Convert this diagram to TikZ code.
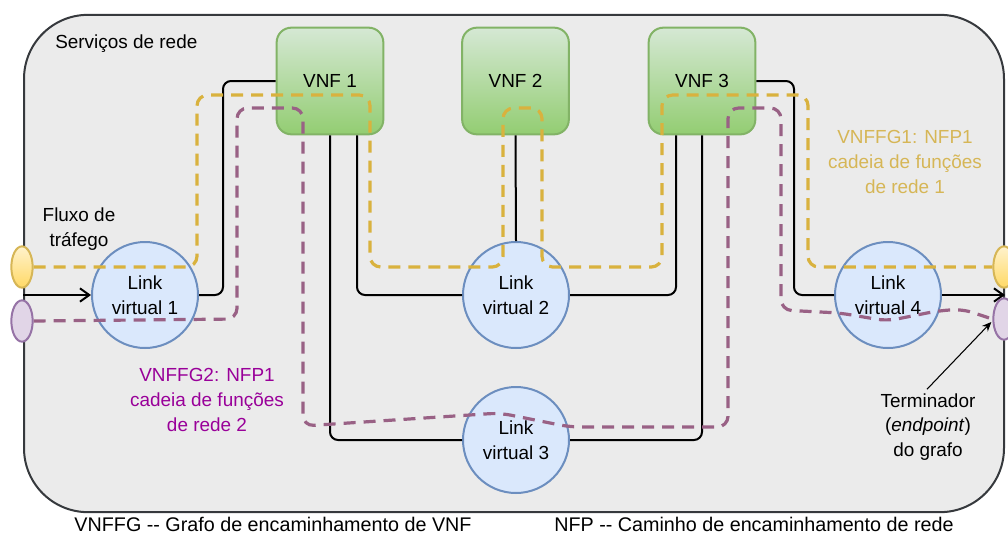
\documentclass[tikz,border=0pt]{standalone}
\usepackage{fontspec}
\newfontfamily\hv{Liberation Sans}
\usetikzlibrary{arrows.meta,shapes.geometric,calc}
\definecolor{bgfill}{HTML}{EBEBEB}
\definecolor{bgline}{HTML}{36393D}
\definecolor{vnftop}{HTML}{D5E8D4}
\definecolor{vnfbot}{HTML}{93CD72}
\definecolor{vnfline}{HTML}{82B366}
\definecolor{lnkfill}{HTML}{DAE8FC}
\definecolor{lnkline}{HTML}{6C8EBF}
\definecolor{yltop}{HTML}{FFF2CC}
\definecolor{ylbot}{HTML}{FFD966}
\definecolor{ylline}{HTML}{D6B656}
\definecolor{ydash}{HTML}{D9B23E}
\definecolor{pufill}{HTML}{E1D5E7}
\definecolor{puline}{HTML}{9673A6}
\definecolor{pudash}{HTML}{996185}
\definecolor{ytext}{HTML}{D6B656}
\definecolor{ptext}{HTML}{990099}
\tikzset{
  container/.style={draw=bgline, fill=bgfill, line width=1.5pt, rounded corners=48pt,
    minimum width=735pt, minimum height=373pt, inner sep=0pt},
  vnf/.style={draw=vnfline, line width=1.5pt, top color=vnftop, bottom color=vnfbot,
    rounded corners=11pt, minimum width=80pt, minimum height=80pt, inner sep=0pt},
  lnk/.style={circle, draw=lnkline, fill=lnkfill, line width=1.5pt, minimum size=79.5pt,
    inner sep=0pt, align=center},
  yell/.style={ellipse, draw=ylline, top color=yltop, bottom color=ylbot, line width=1.5pt,
    minimum width=16pt, minimum height=31pt, inner sep=0pt},
  pell/.style={ellipse, draw=puline, fill=pufill, line width=1.5pt,
    minimum width=16pt, minimum height=31pt, inner sep=0pt},
  blk/.style={draw=black, line width=1.5pt, rounded corners=6pt},
  blkarrow/.style={blk, -{Straight Barb[length=7pt,width=10pt]}},
  ypath/.style={draw=ydash, line width=2.4pt, dash pattern=on 9pt off 6pt, rounded corners=8pt},
  ppath/.style={draw=pudash, line width=2.4pt, dash pattern=on 9pt off 6pt, rounded corners=8pt},
  lbl/.style={align=center, inner sep=0pt},
  legend/.style={lbl, font=\hv\fontsize{14.8}{18}\selectfont},
}
\begin{document}
\begin{tikzpicture}[x=0.75pt,y=-0.75pt, font=\hv\fontsize{14.2}{18.5}\selectfont]
\useasboundingbox (0,0) rectangle (1008,536);
\node[container] (svc) at (514,263.5) {};
\node[lbl, anchor=west] (svclbl) at (55,44) {Serviços de rede};

% VNF boxes
\node[vnf] (vnf1) at (330,81) {VNF 1};
\node[vnf] (vnf2) at (515.5,81) {VNF 2};
\node[vnf] (vnf3) at (702,81) {VNF 3};

% Virtual links
\node[lnk] (lnk1) at (145,295) {Link\\virtual 1};
\node[lnk] (lnk2) at (516,295) {Link\\virtual 2};
\node[lnk] (lnk3) at (516,440) {Link\\virtual 3};
\node[lnk] (lnk4) at (888,295) {Link\\virtual 4};

% black links
\draw[blkarrow] (svc.west |- lnk1.west) -- (lnk1.west);
\draw[blk] (lnk1.east) -- (223,295) |- (vnf1.west);
\draw[blk] ($(vnf1.south)+(27,0)$) |- (lnk2.west);
\draw[blk] (vnf1.south) |- (lnk3.west);
\draw[blk] (vnf2.south) -- (lnk2.north);
\draw[blk] ($(vnf3.south)+(-26,0)$) |- (lnk2.east);
\draw[blk] (vnf3.south) |- (lnk3.east);
\draw[blk] (vnf3.east) -| (794,295) -- (lnk4.west);
\draw[blkarrow] (lnk4.east) -- (svc.east |- lnk4.east);

% end points
\node[yell] (yl) at (22,267) {};
\node[pell] (pl) at (22,321) {};
\node[yell] (yr) at (1004,267) {};
\node[pell] (pr) at (1004,319) {};

% VNFFG1 path (yellow)
\draw[ypath] (yl.east) -- (197,267) -- (197,95) -- (370,95) -- (370,267) -- (503,267)
  -- (503,108) -- (542,108) -- (542,267) -- (662,267) -- (662,95) -- (808,95)
  -- (808,267) -- (yr.west);

% VNFFG2 path (purple)
\draw[ppath] (pl.east) -- (237,319) -- (237,108) -- (303,108) -- (303,426)
  -- (500,413) -- (570,427) -- (728,427) -- (728,108) -- (781,108) -- (781,310)
  -- (840,313) -- (887,321) -- (937,311) -- (962,309) -- (pr.west);

% labels
\node[lbl] (fluxo) at (79,229) {Fluxo de\\tráfego};
\node[lbl, text=ytext] (nfp1) at (905,162) {VNFFG1: NFP1\\cadeia de funções\\de rede 1};
\node[lbl, text=ptext] (nfp2) at (207,400) {VNFFG2: NFP1\\cadeia de funções\\de rede 2};
\node[lbl] (term) at (928,427) {Terminador\\(\textit{endpoint})\\do grafo};
\draw[line width=0.8pt, -{Stealth[length=7pt,width=6pt]}] ($(term.north)+(-1,-4)$) -- ($(pr.west)+(-1,3)$);

\node[legend] (leg1) at (273,524) {VNFFG -- Grafo de encaminhamento de VNF};
\node[legend] (leg2) at (754,524) {NFP -- Caminho de encaminhamento de rede};
\end{tikzpicture}
\end{document}
